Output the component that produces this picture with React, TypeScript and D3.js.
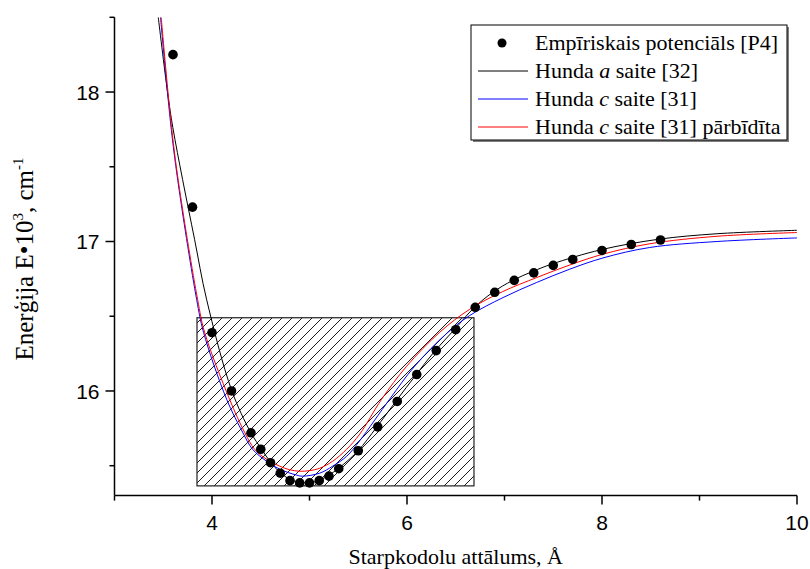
import React from "react";
import * as d3 from "d3";

// Empirical potential points
const empX = [3.6, 3.8, 4.0, 4.2, 4.4, 4.5, 4.6, 4.7, 4.8, 4.9, 5.0, 5.1, 5.2, 5.3, 5.5, 5.7, 5.9, 6.1, 6.3, 6.5, 6.7, 6.9, 7.1, 7.3, 7.5, 7.7, 8.0, 8.3, 8.6];
const empY = [18.25, 17.23, 16.39, 16.0, 15.72, 15.61, 15.52, 15.45, 15.40, 15.385, 15.385, 15.40, 15.43, 15.48, 15.60, 15.76, 15.93, 16.11, 16.27, 16.41, 16.56, 16.66, 16.74, 16.79, 16.84, 16.88, 16.94, 16.98, 17.01];

// Hunda a saite [32] (black)
const aX = [3.449, 3.544, 3.598, 3.698, 3.821, 3.944, 4.201, 4.396, 4.509, 4.601, 4.694, 4.796, 4.899, 5.001, 5.104, 5.196, 5.299, 5.494, 5.689, 5.894, 6.089, 6.284, 6.49, 6.685, 6.88, 7.085, 7.29, 7.49, 7.99, 8.58, 9.18, 10.0];
const aY = [18.5, 17.998, 17.764, 17.416, 17.015, 16.614, 16.005, 15.724, 15.61, 15.523, 15.457, 15.41, 15.39, 15.386, 15.403, 15.436, 15.483, 15.597, 15.758, 15.938, 16.105, 16.266, 16.413, 16.555, 16.66, 16.74, 16.80, 16.85, 16.945, 17.015, 17.052, 17.075];

// Hunda c saite [31] (blue)
const cX = [3.472, 3.58, 3.662, 3.842, 3.913, 4.15, 4.314, 4.416, 4.56, 4.694, 4.868, 4.93, 5.104, 5.238, 5.381, 5.515, 5.822, 6.079, 6.407, 6.644, 6.985, 7.327, 7.67, 8.01, 8.49, 9.18, 10.0];
const cY = [18.5, 17.764, 17.35, 16.614, 16.393, 15.945, 15.724, 15.61, 15.53, 15.477, 15.437, 15.43, 15.45, 15.497, 15.563, 15.667, 15.945, 16.166, 16.385, 16.505, 16.625, 16.725, 16.815, 16.89, 16.96, 17.0, 17.024];

// Hunda c saite [31] pārbīdīta (red)
const sX = [3.479, 3.585, 3.667, 3.852, 3.924, 4.18, 4.334, 4.437, 4.56, 4.694, 4.796, 4.899, 5.001, 5.104, 5.238, 5.381, 5.515, 5.74, 5.997, 6.336, 6.644, 6.982, 7.331, 7.67, 8.009, 8.491, 9.179, 10.0];
const sY = [18.5, 17.764, 17.35, 16.614, 16.393, 15.945, 15.724, 15.61, 15.543, 15.497, 15.473, 15.463, 15.467, 15.483, 15.53, 15.61, 15.711, 15.945, 16.166, 16.393, 16.547, 16.665, 16.759, 16.843, 16.915, 16.985, 17.035, 17.06];

// Hatched region [x0, x1], [y0, y1]
const boxX = [3.846, 6.687];
const boxY = [15.365, 16.49];

const xTicksMajor = [4, 6, 8, 10];
const xTicksMinor = [3, 5, 7, 9];
const yTicksMajor = [16, 17, 18];
const yTicksMinor = [15.5, 16.5, 17.5, 18.5];

const legendItems = ["Empīriskais potenciāls [P4]", "Hunda a saite [32]", "Hunda c saite [31]", "Hunda c saite [31] pārbīdīta"];
const seriesColors = ["#000000", "#000000", "#0000ff", "#ff0000"];

const W = 810;
const H = 569;
const serif = "Liberation Serif";
const sans = "Liberation Sans";

export default function App() {
  const x = d3.scaleLinear().domain([3, 10]).range([114.5, 797]);
  const y = d3.scaleLinear().domain([15.3, 18.5]).range([495.6, 17.3]);

  const line = d3
    .line<[number, number]>()
    .x((d) => x(d[0]))
    .y((d) => y(d[1]))
    .curve(d3.curveCatmullRom.alpha(0.5));

  const zip = (xs: number[], ys: number[]) => xs.map((v, i) => [v, ys[i]] as [number, number]);

  const curves = [
    { pts: zip(aX, aY), color: seriesColors[1] },
    { pts: zip(cX, cY), color: seriesColors[2] },
    { pts: zip(sX, sY), color: seriesColors[3] },
  ];

  const x0 = x.range()[0];
  const x1 = x.range()[1];
  const yb = y.range()[0];
  const yt = y.range()[1];

  const lx = 471, ly = 25, lw = 316, lh = 115;
  const rowY = [43, 71, 99, 127];

  return (
    <svg width={W} height={H} style={{ position: "absolute", left: 0, top: 0, background: "#fff" }}>
      <defs>
        <pattern id="hatch" patternUnits="userSpaceOnUse" width={10} height={10}>
          <path d="M-1,1 L1,-1 M0,10 L10,0 M9,11 L11,9" stroke="#000" strokeWidth={0.9} />
        </pattern>
        <clipPath id="plot">
          <rect x={x0} y={yt} width={x1 - x0} height={yb - yt} />
        </clipPath>
      </defs>

      {/* hatched box */}
      <rect
        x={x(boxX[0])}
        y={y(boxY[1])}
        width={x(boxX[1]) - x(boxX[0])}
        height={y(boxY[0]) - y(boxY[1])}
        fill="url(#hatch)"
        stroke="#222"
        strokeWidth={1.2}
      />

      {/* curves */}
      <g clipPath="url(#plot)">
        {curves.map((c, i) => (
          <path key={i} d={line(c.pts) || ""} fill="none" stroke={c.color} strokeWidth={1} />
        ))}
      </g>

      {/* points */}
      {empX.map((v, i) => (
        <circle key={i} cx={x(v)} cy={y(empY[i])} r={4.8} fill="#000" />
      ))}

      {/* axes */}
      <line x1={x0} x2={x0} y1={yt} y2={yb} stroke="#000" strokeWidth={1.5} />
      <line x1={x0} x2={x1} y1={yb} y2={yb} stroke="#000" strokeWidth={1.5} />
      {yTicksMajor.map((t) => (
        <g key={"ym" + t}>
          <line x1={x0 - 9} x2={x0} y1={y(t)} y2={y(t)} stroke="#000" strokeWidth={1.5} />
          <text x={x0 - 15} y={y(t)} dy="0.36em" textAnchor="end" style={{ fontFamily: sans, fontSize: 21 }}>
            {t}
          </text>
        </g>
      ))}
      {yTicksMinor.map((t) => (
        <line key={"yn" + t} x1={x0 - 5} x2={x0} y1={y(t)} y2={y(t)} stroke="#000" strokeWidth={1.5} />
      ))}
      {xTicksMajor.map((t) => (
        <g key={"xm" + t}>
          <line x1={x(t)} x2={x(t)} y1={yb} y2={yb + 9} stroke="#000" strokeWidth={1.5} />
          <text x={x(t)} y={530} textAnchor="middle" style={{ fontFamily: sans, fontSize: 21 }}>
            {t}
          </text>
        </g>
      ))}
      {xTicksMinor.map((t) => (
        <line key={"xn" + t} x1={x(t)} x2={x(t)} y1={yb} y2={yb + 5} stroke="#000" strokeWidth={1.5} />
      ))}

      {/* axis titles */}
      <text x={(x0 + x1) / 2} y={564} textAnchor="middle" style={{ fontFamily: serif, fontSize: 22 }}>
        Starpkodolu attālums, Å
      </text>
      <text
        transform={`translate(33, 259) rotate(-90)`}
        textAnchor="middle"
        style={{ fontFamily: serif, fontSize: 25 }}
      >
        Enerģija E•10
        <tspan dy={-10} style={{ fontSize: 15 }}>3</tspan>
        <tspan dy={10}>, cm</tspan>
        <tspan dy={-10} style={{ fontSize: 15 }}>-1</tspan>
      </text>

      {/* legend */}
      <rect x={lx + 2} y={ly + 2} width={lw} height={lh} fill="#808080" />
      <rect x={lx} y={ly} width={lw} height={lh} fill="#fff" stroke="#000" strokeWidth={1} />
      {legendItems.map((label, i) => {
        const cy = rowY[i];
        const m = label.match(/^Hunda (\w) (.*)$/);
        return (
          <g key={i}>
            {i === 0 ? (
              <circle cx={502} cy={cy} r={4.5} fill={seriesColors[0]} />
            ) : (
              <line x1={478} x2={528} y1={cy} y2={cy} stroke={seriesColors[i]} strokeWidth={1} />
            )}
            <text x={535} y={cy} dy="0.33em" style={{ fontFamily: serif, fontSize: 22 }}>
              {m ? (
                <>
                  Hunda <tspan style={{ fontStyle: "italic" }}>{m[1]}</tspan> {m[2]}
                </>
              ) : (
                label
              )}
            </text>
          </g>
        );
      })}
    </svg>
  );
}
